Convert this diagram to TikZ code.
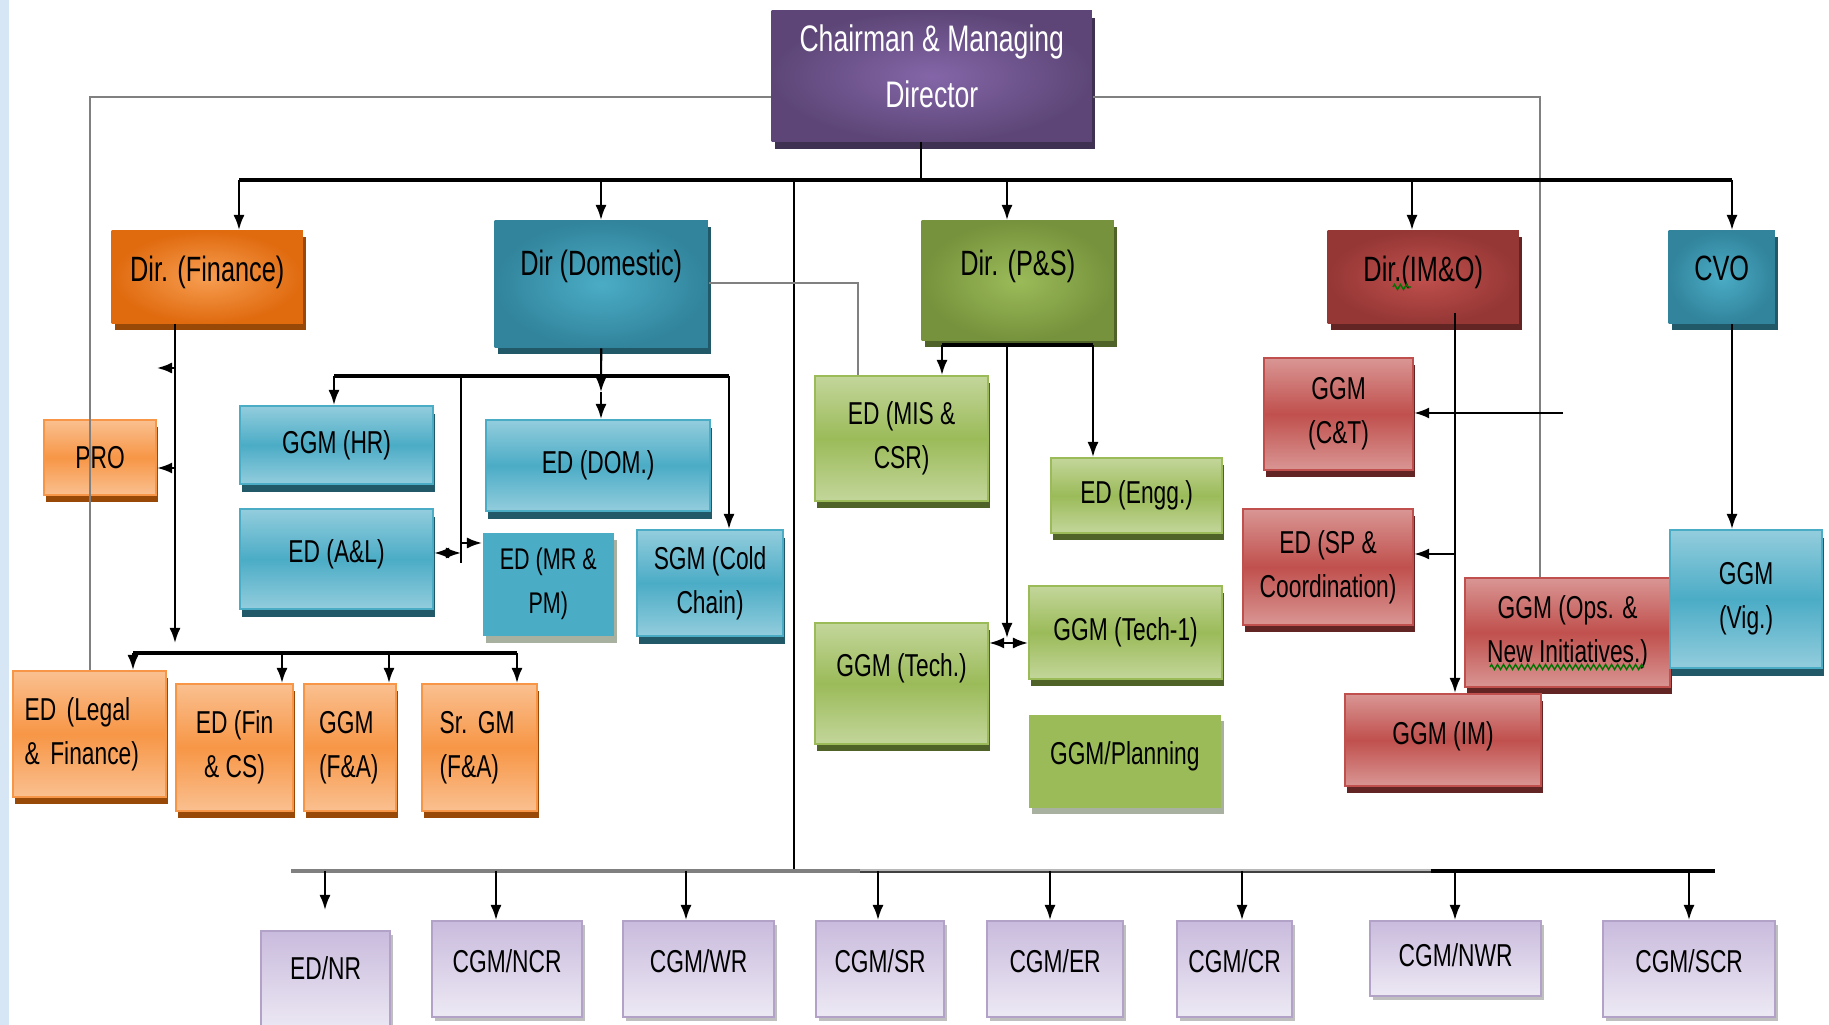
\documentclass[tikz,border=0pt]{standalone}
\usepackage{fontspec}
\setmainfont[FakeStretch=0.72]{Liberation Sans}
\usepackage{tikz}
\usetikzlibrary{arrows.meta,shadows,decorations.pathmorphing}

\definecolor{stripblue}{HTML}{D6E6F5}
\definecolor{purin}{HTML}{8466A8}
\definecolor{purout}{HTML}{5D4677}
\definecolor{pursh}{HTML}{3F3151}
\definecolor{orgin}{HTML}{F79E52}
\definecolor{orgout}{HTML}{E06A0E}
\definecolor{orgsh}{HTML}{984807}
\definecolor{orglight}{HTML}{FAC090}
\definecolor{orgmid}{HTML}{F79646}
\definecolor{tealin}{HTML}{4BACC6}
\definecolor{tealout}{HTML}{31849B}
\definecolor{tealsh}{HTML}{215968}
\definecolor{teallight}{HTML}{93CDDD}
\definecolor{grnin}{HTML}{9BBB59}
\definecolor{grnout}{HTML}{76923C}
\definecolor{grnsh}{HTML}{4F6228}
\definecolor{grnlight}{HTML}{C3D69B}
\definecolor{redin}{HTML}{C0504D}
\definecolor{redout}{HTML}{953735}
\definecolor{redsh}{HTML}{632523}
\definecolor{redlight}{HTML}{D99694}
\definecolor{lavtop}{HTML}{C9BBDD}
\definecolor{lavbot}{HTML}{EDE9F4}
\definecolor{lavedge}{HTML}{B3A2C7}
\definecolor{flatsh}{HTML}{A8B0A0}

\tikzstyle{orgbox} = [anchor=north west, inner sep=0pt, align=center, font=\fontsize{9}{12.5}\selectfont]
\tikzstyle{dirbox} = [orgbox, font=\fontsize{10}{13}\selectfont]
\tikzstyle{purpledir} = [dirbox, inner color=purin, outer color=purout, text=white, font=\fontsize{10.5}{16}\selectfont, drop shadow={shadow xshift=0.03cm, shadow yshift=-0.07cm, fill=pursh, opacity=1}]
\tikzstyle{orangedir} = [dirbox, inner color=orgin, outer color=orgout, drop shadow={shadow xshift=0.03cm, shadow yshift=-0.06cm, fill=orgsh, opacity=1}]
\tikzstyle{tealdir} = [dirbox, inner color=tealin, outer color=tealout, drop shadow={shadow xshift=0.03cm, shadow yshift=-0.06cm, fill=tealsh, opacity=1}]
\tikzstyle{greendir} = [dirbox, inner color=grnin, outer color=grnout, drop shadow={shadow xshift=0.03cm, shadow yshift=-0.06cm, fill=grnsh, opacity=1}]
\tikzstyle{reddir} = [dirbox, inner color=redin, outer color=redout, drop shadow={shadow xshift=0.03cm, shadow yshift=-0.06cm, fill=redsh, opacity=1}]
\tikzstyle{orangebox} = [orgbox, top color=orglight, bottom color=orglight, middle color=orgmid, draw=orgmid, line width=0.6pt, drop shadow={shadow xshift=0.02cm, shadow yshift=-0.07cm, fill=orgsh, opacity=1}]
\tikzstyle{tealbox} = [orgbox, top color=teallight, bottom color=teallight, middle color=tealin, draw=tealin, line width=0.6pt, drop shadow={shadow xshift=0.02cm, shadow yshift=-0.08cm, fill=tealsh, opacity=1}]
\tikzstyle{tealflat} = [orgbox, fill=tealin, font=\fontsize{8.5}{12.5}\selectfont, drop shadow={shadow xshift=0.03cm, shadow yshift=-0.07cm, fill=flatsh, opacity=1}]
\tikzstyle{greenbox} = [orgbox, top color=grnlight, bottom color=grnlight, middle color=grnin, draw=grnin, line width=0.6pt, drop shadow={shadow xshift=0.02cm, shadow yshift=-0.07cm, fill=grnsh, opacity=1}]
\tikzstyle{greenflat} = [orgbox, fill=grnin, drop shadow={shadow xshift=0.03cm, shadow yshift=-0.06cm, fill=flatsh, opacity=1}]
\tikzstyle{redbox} = [orgbox, top color=redlight, bottom color=redlight, middle color=redin, draw=redin, line width=0.6pt, drop shadow={shadow xshift=0.02cm, shadow yshift=-0.07cm, fill=redsh, opacity=1}]
\tikzstyle{lavbox} = [orgbox, top color=lavtop, bottom color=lavbot, draw=lavedge, line width=0.6pt, text depth=0.16cm, drop shadow={shadow xshift=0.03cm, shadow yshift=-0.04cm, fill=black!25, opacity=1}]
\tikzstyle{conn} = [line width=0.6pt]
\tikzstyle{busline} = [line width=1.2pt]
\tikzstyle{grayline} = [line width=0.7pt, black!50]
\tikzstyle{arr} = [conn, -{Latex[length=1.5mm,width=1.1mm]}]
\tikzstyle{dbl} = [conn, {Latex[length=1.5mm,width=1.1mm]}-{Latex[length=1.5mm,width=1.1mm]}]
\tikzstyle{squiggle} = [green!45!black, line width=0.4pt, decorate, decoration={zigzag, amplitude=0.25mm, segment length=0.6mm}]

\begin{document}
\begin{tikzpicture}[x=0.01cm, y=-0.01cm]
\useasboundingbox (0,0) rectangle (1829,1025);
\fill[white] (0,0) rectangle (1829,1025);
\fill[stripblue] (0,0) rectangle (9,1025);

\node [purpledir, minimum width=3.2cm, minimum height=1.31cm, text depth=0.2cm] (cmd) at (771,10) {Chairman \& Managing\\Director};

\node [orangedir, minimum width=1.91cm, minimum height=0.93cm, text depth=0.16cm] (dfin) at (111,230) {Dir. (Finance)};
\node [tealdir, minimum width=2.13cm, minimum height=1.27cm, text depth=0.42cm] (ddom) at (494,220) {Dir (Domestic)};
\node [greendir, minimum width=1.92cm, minimum height=1.2cm, text depth=0.36cm] (dps) at (921,220) {Dir. (P\&S)};
\node [reddir, minimum width=1.91cm, minimum height=0.93cm, text depth=0.16cm] (dimo) at (1327,230) {Dir.(IM\&O)};
\node [tealdir, minimum width=1.06cm, minimum height=0.93cm, text depth=0.18cm] (cvo) at (1668,230) {CVO};

\node [orangebox, minimum width=1.12cm, minimum height=0.75cm] (pro) at (43,419) {PRO};
\node [orangebox, minimum width=1.53cm, minimum height=1.26cm, text width=1.3cm, align=left] (edlegal) at (12,670) {ED (Legal\\\& Finance)};
\node [orangebox, minimum width=1.17cm, minimum height=1.27cm] (edfincs) at (175,683) {ED (Fin\\\& CS)};
\node [orangebox, minimum width=0.92cm, minimum height=1.27cm, text width=0.62cm, align=left] (ggmfa) at (303,683) {GGM\\(F\&A)};
\node [orangebox, minimum width=1.15cm, minimum height=1.27cm, text width=0.8cm, align=left] (srgmfa) at (421,683) {Sr.~GM\\(F\&A)};

\node [tealbox, minimum width=1.93cm, minimum height=0.78cm] (ggmhr) at (239,405) {GGM (HR)};
\node [tealbox, minimum width=2.24cm, minimum height=0.91cm] (eddom) at (485,419) {ED (DOM.)};
\node [tealbox, minimum width=1.93cm, minimum height=1.0cm, text depth=0.16cm] (edal) at (239,508) {ED (A\&L)};
\node [tealflat, minimum width=1.31cm, minimum height=1.03cm] (edmr) at (482,532) {ED (MR \&\\PM)};
\node [tealbox, minimum width=1.46cm, minimum height=1.06cm] (sgmcc) at (636,529) {SGM (Cold\\Chain)};

\node [greenbox, minimum width=1.73cm, minimum height=1.25cm] (edmis) at (814,375) {ED (MIS \&\\CSR)};
\node [greenbox, minimum width=1.71cm, minimum height=0.75cm] (edengg) at (1050,457) {ED (Engg.)};
\node [greenbox, minimum width=1.73cm, minimum height=1.21cm, text depth=0.38cm] (ggmtech) at (814,622) {GGM (Tech.)};
\node [greenbox, minimum width=1.93cm, minimum height=0.93cm] (ggmtech1) at (1028,585) {GGM (Tech-1)};
\node [greenflat, minimum width=1.92cm, minimum height=0.93cm, text depth=0.16cm] (ggmplan) at (1028,714) {GGM/Planning};

\node [redbox, minimum width=1.49cm, minimum height=1.12cm] (ggmct) at (1263,357) {GGM\\(C\&T)};
\node [redbox, minimum width=1.7cm, minimum height=1.16cm] (edsp) at (1242,508) {ED (SP \&\\Coordination)};
\node [redbox, minimum width=2.05cm, minimum height=1.09cm] (ggmops) at (1464,577) {GGM (Ops. \&\\New Initiatives.)};
\node [redbox, minimum width=1.96cm, minimum height=0.92cm, text depth=0.14cm] (ggmim) at (1344,693) {GGM (IM)};

\node [tealbox, minimum width=1.52cm, minimum height=1.38cm] (ggmvig) at (1669,529) {GGM\\(Vig.)};

\node [lavbox, minimum width=1.29cm, minimum height=1.0cm, text depth=0.26cm] (ednr) at (260,930) {ED/NR};
\node [lavbox, minimum width=1.5cm, minimum height=0.96cm] (cgmncr) at (431,920) {CGM/NCR};
\node [lavbox, minimum width=1.51cm, minimum height=0.96cm] (cgmwr) at (622,920) {CGM/WR};
\node [lavbox, minimum width=1.28cm, minimum height=0.96cm] (cgmsr) at (815,920) {CGM/SR};
\node [lavbox, minimum width=1.36cm, minimum height=0.96cm] (cgmer) at (986,920) {CGM/ER};
\node [lavbox, minimum width=1.15cm, minimum height=0.96cm] (cgmcr) at (1176,920) {CGM/CR};
\node [lavbox, minimum width=1.71cm, minimum height=0.75cm, text depth=0.08cm] (cgmnwr) at (1369,920) {CGM/NWR};
\node [lavbox, minimum width=1.72cm, minimum height=0.96cm] (cgmscr) at (1602,920) {CGM/SCR};

\draw [squiggle] (1490,667) -- (1644,667);
\draw [squiggle] (1393,287) -- (1411,287);

\coordinate (gl) at (90,97);
\coordinate (gr) at (1540,97);
\draw [grayline] (cmd.west |- gl) -- (gl) -- (gl |- edlegal.north);
\draw [grayline] (cmd.east |- gr) -- (gr) -- (gr |- ggmops.north);

\coordinate (b0) at (921,180);
\coordinate (b1) at (239,180);
\coordinate (b2) at (601,180);
\coordinate (b3) at (1007,180);
\coordinate (b4) at (1412,180);
\coordinate (b5) at (1732,180);
\coordinate (bm) at (794,180);
\coordinate (bb) at (794,871);
\draw [conn] (b0 |- cmd.south) -- (b0);
\draw [busline] (b1) -- (b5);
\foreach \b/\n in {b1/dfin, b2/ddom, b3/dps, b4/dimo, b5/cvo}
  \draw [arr] (\b) -- (\b |- \n.north);
\draw [conn] (bm) -- (bb);

\coordinate (ftip) at (175,643);
\coordinate (fa1) at (175,368);
\coordinate (fa1e) at (157,368);
\coordinate (fa2) at (175,468);
\draw [arr] (ftip |- dfin.south) -- (ftip);
\draw [arr] (fa1) -- (fa1e);
\draw [arr] (fa2) -- (fa2 -| pro.east);
\coordinate (ob1) at (133,653);
\coordinate (ob2) at (282,653);
\coordinate (ob3) at (389,653);
\coordinate (ob4) at (517,653);
\draw [busline] (ob1) -- (ob4);
\foreach \b/\n in {ob1/edlegal, ob2/edfincs, ob3/ggmfa, ob4/srgmfa}
  \draw [arr] (\b) -- (\b |- \n.north);

\coordinate (dm) at (601,392);
\coordinate (db1) at (334,376);
\coordinate (db2) at (461,376);
\coordinate (db3) at (729,376);
\coordinate (db2e) at (461,563);
\coordinate (mr) at (461,543);
\coordinate (al) at (461,553);
\coordinate (dg) at (858,283);
\draw [arr] (ddom.south) -- (dm);
\draw [arr] (dm) -- (dm |- eddom.north);
\draw [busline] (db1) -- (db3);
\draw [arr] (db1) -- (db1 |- ggmhr.north);
\draw [arr] (db3) -- (db3 |- sgmcc.north);
\draw [conn] (db2) -- (db2e);
\draw [arr] (mr) -- (mr -| edmr.west);
\draw [dbl] (al -| edal.east) -- (al);
\draw [grayline] (ddom.east |- dg) -- (dg) -- (dg |- edmis.north);

\coordinate (pb1) at (942,345);
\coordinate (pb2) at (1007,345);
\coordinate (pb3) at (1093,345);
\coordinate (pt) at (1007,638);
\coordinate (pt2) at (1007,643);
\draw [busline] (pb1) -- (pb3);
\draw [arr] (pb1) -- (pb1 |- edmis.north);
\draw [arr] (pb3) -- (pb3 |- edengg.north);
\draw [arr] (pb2) -- (pt);
\draw [dbl] (pt2 -| ggmtech.east) -- (pt2 -| ggmtech1.west);

\coordinate (ib) at (1455,313);
\coordinate (ct) at (1563,413);
\coordinate (sp) at (1455,554);
\draw [arr] (ib) -- (ib |- ggmim.north);
\draw [arr] (ct) -- (ct -| ggmct.east);
\draw [arr] (sp) -- (sp -| edsp.east);
\draw [arr] (b5 |- cvo.south) -- (b5 |- ggmvig.north);

\coordinate (bb0) at (291,871);
\coordinate (bb1) at (860,871);
\coordinate (bb2) at (1431,871);
\coordinate (bb3) at (1715,871);
\draw [line width=1.4pt, black!50] (bb0) -- (bb1);
\draw [line width=0.7pt, black!28] ([yshift=0.012cm]bb1) -- ([yshift=0.012cm]bb2);
\draw [line width=0.7pt, black!75] ([yshift=-0.012cm]bb1) -- ([yshift=-0.012cm]bb2);
\draw [line width=1.4pt] (bb2) -- (bb3);
\coordinate (k0) at (325,871);
\coordinate (k0e) at (325,910);
\draw [arr] (k0) -- (k0e);
\foreach \x/\n in {496/cgmncr, 686/cgmwr, 878/cgmsr, 1050/cgmer, 1242/cgmcr, 1455/cgmnwr, 1689/cgmscr} {
  \coordinate (k\n) at (\x,871);
  \draw [arr] (k\n) -- (k\n |- \n.north);
}
\end{tikzpicture}
\end{document}
